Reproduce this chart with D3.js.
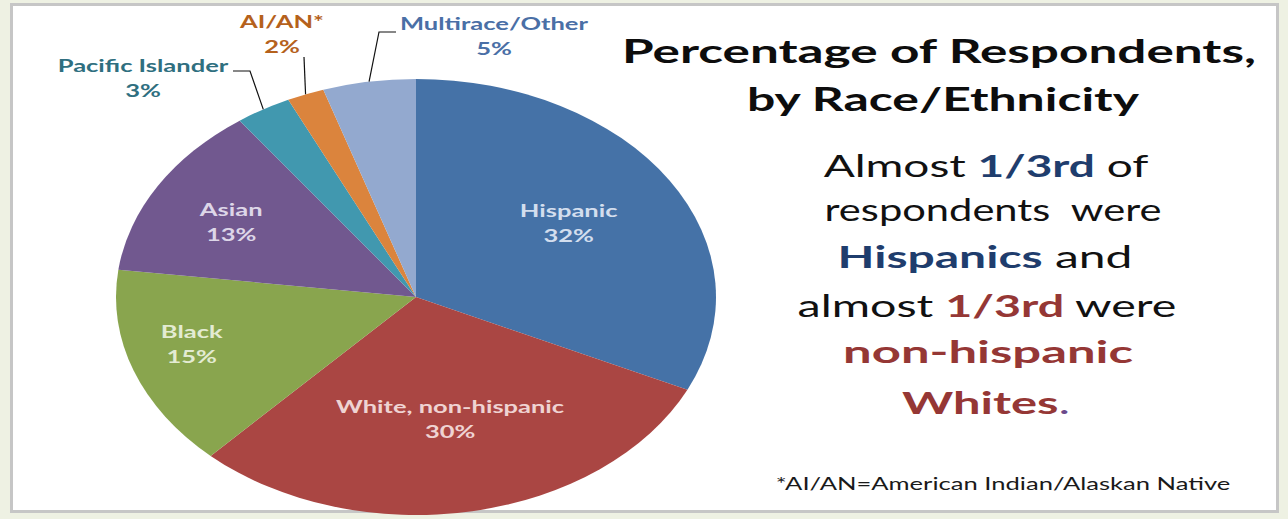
<!DOCTYPE html>
<html>
<head>
<meta charset="utf-8">
<script src="https://cdn.jsdelivr.net/npm/d3@7"></script>
<style>
  html, body { margin: 0; padding: 0; background: #eef1e3; }
  svg { display: block; }
</style>
</head>
<body>
<svg width="1288" height="519"></svg>
<script>
// data
var categories = ["Hispanic", "White, non-hispanic", "Black", "Asian", "Pacific Islander", "AI/AN*", "Multirace/Other"];
var percents = [32, 30, 15, 13, 3, 2, 5];
var sliceColors = ["#4572a7", "#aa4643", "#89a54e", "#71588f", "#4198af", "#db843d", "#93a9cf"];
var labelColors = ["#d3deee", "#efd3d2", "#e3ebd2", "#ddd6e8", "#2f6f80", "#b5611c", "#4a6fa6"];
var titleLines = ["Percentage of Respondents,", "by Race/Ethnicity"];
var bodyLines = [
  [["Almost ", "n"], ["1/3rd", "blue"], [" of", "n"]],
  [["respondents  were", "n"]],
  [["Hispanics", "blue"], [" and", "n"]],
  [["almost ", "n"], ["1/3rd", "red"], [" were", "n"]],
  [["non-hispanic", "red"]],
  [["Whites", "red"], [".", "dot"]]
];
var footnote = "*AI/AN=American Indian/Alaskan Native";

var svg = d3.select("svg");
var W = 1288, H = 519;

// panel
svg.append("rect").attr("x", 0).attr("y", 0).attr("width", W).attr("height", H).attr("fill", "#eef1e3");
svg.append("rect")
  .attr("x", 11.5).attr("y", 4.5).attr("width", 1266).attr("height", 507)
  .attr("fill", "#fff").attr("stroke", "#c6c6c6").attr("stroke-width", 3);

// pie (the original is stretched sideways)
var cx = 416, cy = 297, R = 218, sx = 300 / 218;
var pieData = d3.pie().sort(null).value(d => d)(percents);
var arc = d3.arc().innerRadius(0).outerRadius(R);

var pieG = svg.append("g").attr("transform", "translate(" + cx + "," + cy + ") scale(" + sx + ",1)");
pieG.selectAll("path")
  .data(pieData)
  .enter().append("path")
  .attr("d", arc)
  .attr("fill", (d, i) => sliceColors[i]);

function toScreen(p) { return [cx + p[0] * sx, cy + p[1]]; }

var LABEL_SX = 1.5;
function pieLabel(x, y, name, pct, color) {
  [[name, 0], [pct, 25]].forEach(function(t) {
    svg.append("text")
      .attr("transform", "translate(" + x + "," + (y + t[1]) + ") scale(" + LABEL_SX + ",1)")
      .attr("text-anchor", "middle")
      .style("font-family", "Lato, 'Open Sans', sans-serif")
      .style("font-weight", "700")
      .style("font-size", "17px")
      .attr("fill", color)
      .text(t[0]);
  });
}

// inside labels: centroid with small nudges like the original
var innerArc = d3.arc().innerRadius(140).outerRadius(140);
var nudge = [[-10, -5], [-2, -22], [-43, -6], [-19, -10]];
pieData.slice(0, 4).forEach(function(d, i) {
  var p = toScreen(innerArc.centroid(d));
  pieLabel(p[0] + nudge[i][0], p[1] + nudge[i][1], categories[i], percents[i] + "%", labelColors[i]);
});

// outside labels with leader lines
var outerLayout = [
  {x: 143, y: 72, elbow: [250, 71], end: [233, 71]},
  {x: 282, y: 28, elbow: [304, 57], end: null},
  {x: 494, y: 30, elbow: [379, 32], end: [396, 32]}
];
var edgeArc = d3.arc().innerRadius(R).outerRadius(R);
pieData.slice(4).forEach(function(d, k) {
  var i = k + 4, lay = outerLayout[k];
  var e = toScreen(edgeArc.centroid(d));
  var pts = [e, lay.elbow];
  if (lay.end) pts.push(lay.end);
  svg.append("path")
    .attr("d", d3.line()(pts))
    .attr("fill", "none").attr("stroke", "#111").attr("stroke-width", 1.2);
  pieLabel(lay.x, lay.y, categories[i], percents[i] + "%", labelColors[i]);
});

// right-hand text, each line stretched to the width seen in the picture
function fitLine(textSel, x, width) {
  var w = textSel.node().getBBox().width;
  textSel.attr("transform", "translate(" + x + ",0) scale(" + (width / w) + ",1)");
}

var titleLayout = [{x: 939, y: 63, w: 634}, {x: 943, y: 111, w: 393}];
titleLines.forEach(function(t, i) {
  var el = svg.append("text")
    .attr("x", 0).attr("y", titleLayout[i].y)
    .attr("text-anchor", "middle")
    .style("font-family", "Lato, sans-serif")
    .style("font-weight", "700")
    .style("font-size", "33px")
    .attr("fill", "#0d0d0d")
    .text(t);
  fitLine(el, titleLayout[i].x, titleLayout[i].w);
});

var styleMap = {
  n: {fill: "#111", weight: 400},
  blue: {fill: "#1f3d6d", weight: 700},
  red: {fill: "#953735", weight: 700},
  dot: {fill: "#6b4a8a", weight: 400}
};
var bodyLayout = [
  {x: 986, y: 177, w: 325}, {x: 993, y: 221, w: 337}, {x: 985, y: 268, w: 295},
  {x: 987, y: 317, w: 379}, {x: 988, y: 363, w: 290}, {x: 986, y: 414, w: 168}
];
bodyLines.forEach(function(line, i) {
  var el = svg.append("text")
    .attr("x", 0).attr("y", bodyLayout[i].y)
    .attr("text-anchor", "middle")
    .style("font-family", "Lato, sans-serif")
    .style("font-size", "31px")
    .style("white-space", "pre");
  line.forEach(function(seg) {
    var st = styleMap[seg[1]];
    el.append("tspan").attr("fill", st.fill).style("font-weight", st.weight).text(seg[0]);
  });
  fitLine(el, bodyLayout[i].x, bodyLayout[i].w);
});

var fn = svg.append("text")
  .attr("x", 0).attr("y", 490)
  .attr("text-anchor", "middle")
  .style("font-family", "Lato, sans-serif")
  .style("font-size", "17px")
  .attr("fill", "#1a1a1a")
  .text(footnote);
fitLine(fn, 1003, 455);
</script>
</body>
</html>
